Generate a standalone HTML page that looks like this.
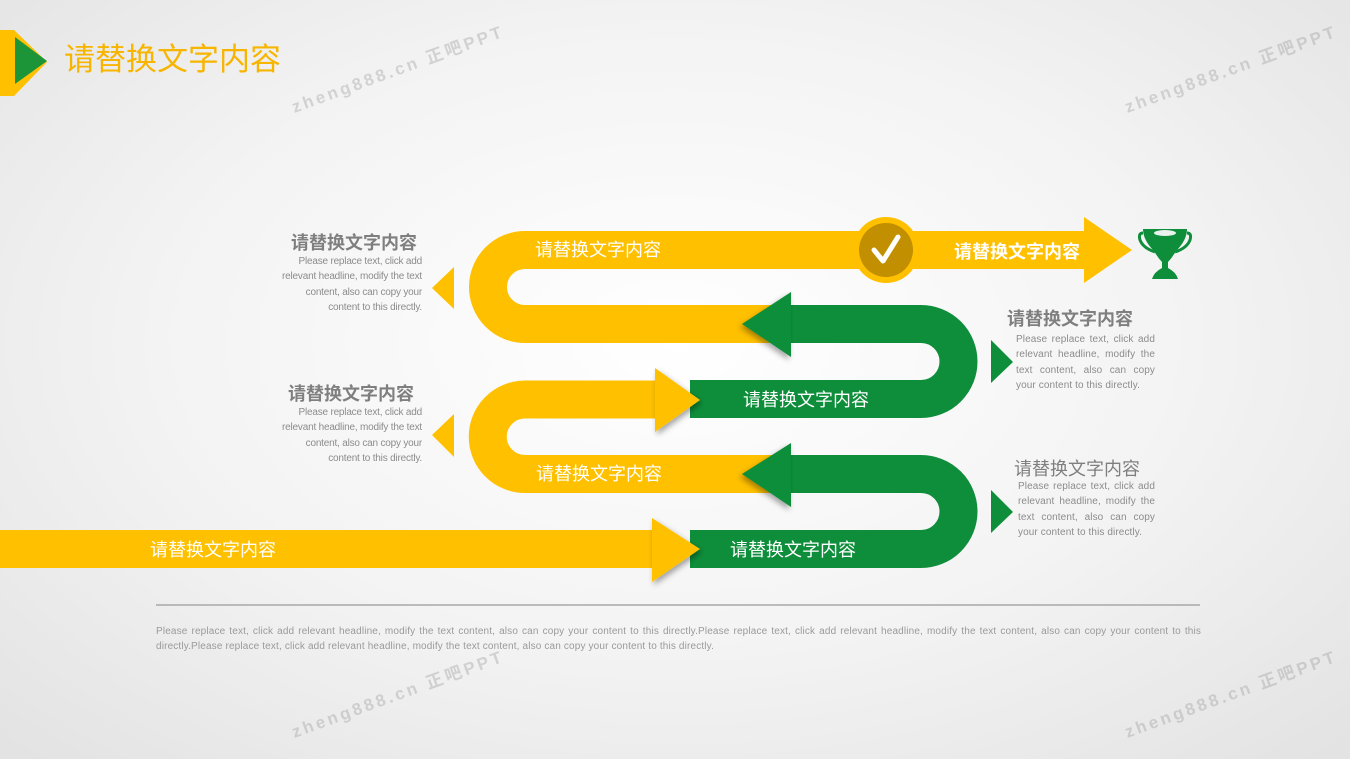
<!DOCTYPE html>
<html><head><meta charset="utf-8"><style>
html,body{margin:0;padding:0}
body{width:1350px;height:759px;overflow:hidden;position:relative;font-family:"Liberation Sans","Noto Sans CJK SC",sans-serif;background:radial-gradient(ellipse 70% 75% at 50% 45%,#ffffff 0%,#f3f3f3 55%,#e3e3e3 100%)}
.t{position:absolute;white-space:nowrap}
.h{font-size:18px;font-weight:bold;color:#7f7f7f}
.b{font-size:10px;color:#8c8c8c;line-height:15.3px}
.wm{position:absolute;font-size:17px;color:rgba(150,150,150,0.35);transform:rotate(-20deg);letter-spacing:3px;font-weight:bold;white-space:nowrap}
</style></head><body>
<svg width="1350" height="759" style="position:absolute;left:0;top:0">
<defs><filter id="sh" x="-30%" y="-30%" width="160%" height="160%"><feDropShadow dx="-2" dy="3" stdDeviation="3" flood-color="#000" flood-opacity="0.35"/></filter>
<filter id="sh2" x="-30%" y="-30%" width="160%" height="160%"><feDropShadow dx="2" dy="3" stdDeviation="3" flood-color="#000" flood-opacity="0.35"/></filter></defs>
<polygon points="0,30 14,30 47,62 14,96 0,96" fill="#FFC000"/>
<polygon points="15,37 47,61 15,84" fill="#1B9538"/>
<path d="M1090 250 H525 A37 37 0 0 0 525 324 H800" fill="none" stroke="#FFC000" stroke-width="38"/>
<polygon points="1084,217 1132,250 1084,283" fill="#FFC000"/>
<path d="M785 324 H921 A37.5 37.5 0 0 1 921 399 H690" fill="none" stroke="#0E8E3B" stroke-width="38"/>
<polygon points="742,324 791,292 791,357" fill="#0E8E3B" filter="url(#sh)"/>
<path d="M660 399.5 H525 A37.25 37.25 0 0 0 525 474 H800" fill="none" stroke="#FFC000" stroke-width="38"/>
<polygon points="700,400 655,368 655,432" fill="#FFC000" filter="url(#sh2)"/>
<path d="M785 474 H921 A37.5 37.5 0 0 1 921 549 H690" fill="none" stroke="#0E8E3B" stroke-width="38"/>
<polygon points="742,474 791,443 791,507" fill="#0E8E3B" filter="url(#sh)"/>
<rect x="0" y="530" width="658" height="38" fill="#FFC000"/>
<polygon points="700,549 652,518 652,582" fill="#FFC000" filter="url(#sh2)"/>
<circle cx="886" cy="250" r="33" fill="#FFC000"/>
<circle cx="886" cy="250" r="27" fill="#C18F00"/>
<path d="M874 250 L883 261 L898 237" fill="none" stroke="#fff" stroke-width="5" stroke-linecap="round" stroke-linejoin="round"/>
<polygon points="432,288 454,267 454,309" fill="#FFC000"/>
<polygon points="432,435 454,414 454,457" fill="#FFC000"/>
<polygon points="1013,362 991,340 991,383" fill="#0E8E3B"/>
<polygon points="1013,512 991,490 991,533" fill="#0E8E3B"/>
<path d="M1143 229 H1187 Q1187 240 1176 251 Q1172 258 1168 262 V268 Q1176 272 1178 279 H1152 Q1154 272 1162 268 V262 Q1158 258 1154 251 Q1143 240 1143 229 Z" fill="#0E8E3B"/>
<path d="M1143 233 Q1138 233 1140 240 Q1143 248 1155 252" fill="none" stroke="#0E8E3B" stroke-width="3"/>
<path d="M1187 233 Q1192 233 1190 240 Q1187 248 1175 252" fill="none" stroke="#0E8E3B" stroke-width="3"/>
<ellipse cx="1165" cy="233" rx="11" ry="3" fill="#e9f2ec"/>
<line x1="156" y1="605" x2="1200" y2="605" stroke="#a8a8a8" stroke-width="1.5"/>
</svg>
<div class="t" style="left:64px;top:34px;font-size:31px;color:#F7B500">请替换文字内容</div>
<div class="t" style="left:535px;top:236px;font-size:18px;color:#fff">请替换文字内容</div>
<div class="t" style="left:954px;top:238px;font-size:18px;font-weight:bold;color:#fff">请替换文字内容</div>
<div class="t" style="left:743px;top:386px;font-size:18px;color:#fff">请替换文字内容</div>
<div class="t" style="left:536px;top:460px;font-size:18px;color:#fff">请替换文字内容</div>
<div class="t" style="left:150px;top:536px;font-size:18px;color:#fff">请替换文字内容</div>
<div class="t" style="left:730px;top:536px;font-size:18px;color:#fff">请替换文字内容</div>
<div class="t h" style="left:291px;top:229px">请替换文字内容</div>
<div class="t b" style="left:280px;top:254px;width:142px;text-align:right;white-space:normal;letter-spacing:-0.2px">Please replace text, click add relevant headline, modify the text content, also can copy your content to this directly.</div>
<div class="t h" style="left:288px;top:380px">请替换文字内容</div>
<div class="t b" style="left:280px;top:405px;width:142px;text-align:right;white-space:normal;letter-spacing:-0.2px">Please replace text, click add relevant headline, modify the text content, also can copy your content to this directly.</div>
<div class="t h" style="left:1007px;top:305px">请替换文字内容</div>
<div class="t b" style="left:1016px;top:332px;width:139px;text-align:justify;white-space:normal;letter-spacing:0.1px">Please replace text, click add relevant headline, modify the text content, also can copy your content to this directly.</div>
<div class="t h" style="left:1014px;top:455px;font-weight:normal">请替换文字内容</div>
<div class="t b" style="left:1018px;top:479px;width:137px;text-align:justify;white-space:normal;letter-spacing:0.1px">Please replace text, click add relevant headline, modify the text content, also can copy your content to this directly.</div>
<div class="t b" style="left:156px;top:624px;width:1045px;text-align:justify;white-space:normal;color:#9a9a9a;letter-spacing:0.15px">Please replace text, click add relevant headline, modify the text content, also can copy your content to this directly.Please replace text, click add relevant headline, modify the text content, also can copy your content to this directly.Please replace text, click add relevant headline, modify the text content, also can copy your content to this directly.</div>
<div class="wm" style="left:285px;top:55px">zheng888.cn 正吧PPT</div>
<div class="wm" style="left:1118px;top:55px">zheng888.cn 正吧PPT</div>
<div class="wm" style="left:285px;top:680px">zheng888.cn 正吧PPT</div>
<div class="wm" style="left:1118px;top:680px">zheng888.cn 正吧PPT</div>
</body></html>
